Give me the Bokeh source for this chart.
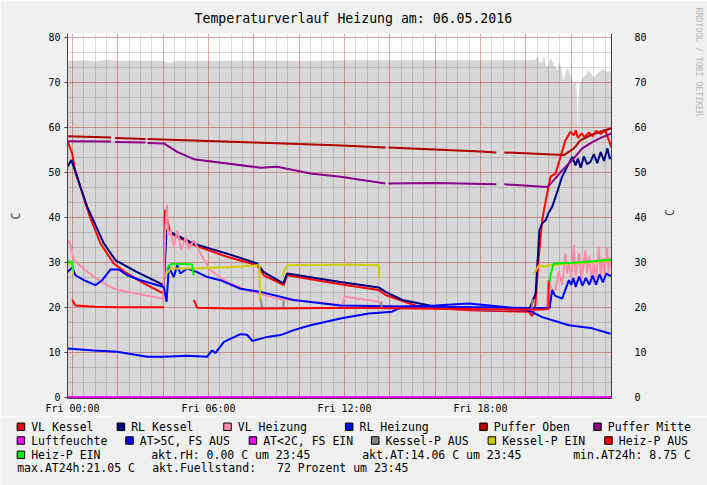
from math import pi
from bokeh.plotting import figure
from bokeh.layouts import column, row
from bokeh.models import Range1d, LinearAxis, FixedTicker, Grid, Title
from bokeh.core.properties import value
from bokeh.embed import file_html
from bokeh.resources import INLINE

NaN = float("nan")
FONT = "DejaVu Sans Mono"
BG = "#F0F0F0"

TITLE = "Temperaturverlauf Heizung am: 06.05.2016"
Y_LABEL = "C"
WATERMARK = "RRDTOOL / TOBI OETIKER"
X_TICKS = [0, 6, 12, 18]
X_TICK_LABELS = ["Fri 00:00", "Fri 06:00", "Fri 12:00", "Fri 18:00"]
Y_TICKS = [0, 10, 20, 30, 40, 50, 60, 70, 80]
X_MAJOR_GRID = [0, 2, 4, 6, 8, 10, 12, 14, 16, 18, 20, 22]
X_MINOR_GRID = [h * 0.5 for h in range(0, 48)]
Y_MINOR_GRID = [k * 10.0 / 3.0 for k in range(0, 25)]

# time in hours since Fri 00:00
FUELL_T = [-0.22, 0.5, 1.0, 1.5, 2.0, 3.0, 4.0, 4.3, 4.6, 6.0, 8.0, 10.0, 12.0, 14.0, 16.0, 18.0, 20.0,
           20.4, 20.5, 20.65, 20.8, 20.94, 21.09, 21.2, 21.38, 21.5, 21.67, 21.82, 21.97, 22.12, 22.22,
           22.27, 22.29, 22.31, 22.38, 22.56, 22.78, 23.0, 23.22, 23.44, 23.59, 23.78]
FUELL_V = [74.7, 74.9, 74.6, 75.0, 74.7, 74.8, 74.7, 74.3, 74.7, 74.7, 74.8, 74.7, 74.9, 74.9, 74.9, 74.9, 74.9,
           74.9, 75.6, 74.1, 75.6, 73.3, 75.2, 74.4, 72.6, 74.5, 70.4, 73.3, 71.8, 69.6, 70.5,
           65.0, 59.3, 66.0, 69.6, 71.1, 72.6, 71.1, 72.2, 73.0, 72.2, 72.6]

VL_KESSEL_T = [-0.22, -0.01, 0.13, 0.35, 0.57, 0.79, 1.24, 1.82, 2.41, 3.15, 4.03, 4.08, 4.32, 5.35, 6.82,
               8.15, 8.44, 9.32, 9.47, 11.82, 13.51, 13.81, 15.28, 17.48, 20.13, 20.28, 20.42, 20.55, 20.72,
               20.94, 21.09, 21.31, 21.53, 21.75, 21.97, 22.12, 22.2, 22.3, 22.45, 22.6, 22.78, 22.95, 23.1,
               23.3, 23.51, 23.66, 23.78]
VL_KESSEL_V = [56.9, 54.1, 49.8, 46.7, 43.1, 39.8, 34.1, 29.7, 27.5, 25.3, 23.0, 41.6, 36.4, 33.8, 31.2,
               29.3, 27.1, 24.9, 27.1, 25.1, 23.8, 22.7, 20.1, 19.3, 19.0, 18.0, 20.5, 30.0, 39.3,
               45.3, 49.0, 49.7, 53.4, 57.1, 59.0, 58.2, 59.3, 57.6, 58.6, 57.8, 58.8, 58.0, 59.2,
               58.5, 59.3, 57.1, 55.5]

RL_KESSEL_T = [-0.22, -0.05, 0.21, 0.35, 0.65, 1.38, 1.9, 2.85, 4.03, 4.15, 5.35, 6.82, 8.15, 8.44, 9.3,
               9.47, 11.82, 13.51, 13.81, 14.55, 16.01, 18.22, 20.13, 20.43, 20.6, 20.72, 20.87, 21.01,
               21.16, 21.31, 21.6, 21.82, 22.05, 22.19, 22.3, 22.42, 22.56, 22.7, 22.85, 23.0, 23.15,
               23.3, 23.45, 23.6, 23.7, 23.78]
RL_KESSEL_V = [51.2, 52.7, 49.0, 46.7, 42.3, 34.2, 30.4, 27.8, 24.9, 37.1, 34.1, 31.9, 29.7, 27.8, 25.3,
               27.5, 25.6, 24.4, 23.4, 21.6, 20.1, 19.3, 19.3, 23.0, 37.1, 38.6, 39.3, 41.0,
               42.3, 44.5, 49.0, 51.2, 53.4, 51.5, 53.0, 51.0, 53.5, 51.8, 52.3, 54.0, 52.0,
               54.5, 52.5, 55.3, 53.0, 53.4]

VL_HEIZUNG_T = [-0.22, -0.1, 0.06, 0.5, 0.94, 1.5, 1.82, 2.5, 3.15, 4.0,
                4.1, 4.17, 4.22, 4.32, 4.47, 4.62, 4.8, 4.99, 5.13, 5.35,
                5.65, 6.09, 6.82, 7.71, 9.03, 10.94, 11.9, 12.0, 13.51, 13.65,
                15.0, 17.0, 19.0, 20.9, 21.01, 21.16, 21.31, 21.45, 21.6, 21.75,
                21.82, 21.9, 22.0, 22.12, 22.2, 22.35, 22.45, 22.63, 22.7, 22.8,
                22.9, 23.0, 23.1, 23.22, 23.3, 23.4, 23.45, 23.59, 23.65, 23.72, 23.78]
VL_HEIZUNG_V = [35.0, 34.0, 30.5, 28.5, 26.8, 25.0, 24.1, 23.3, 22.7, 21.9,
                38.0, 42.7, 36.0, 37.1, 33.4, 37.1, 32.7, 35.6, 33.0, 34.9,
                31.9, 28.2, 25.6, 23.8, 21.9, 21.0, 20.5, 22.4, 21.2, 20.2,
                19.9, 19.6, 19.4, 19.5, 26.0, 23.5, 23.8, 28.0, 25.0, 31.9,
                27.5, 30.0, 26.5, 33.8, 27.0, 32.0, 26.0, 32.7, 27.5, 31.5,
                25.5, 30.0, 26.5, 33.4, 27.0, 31.0, 27.5, 33.4, 27.5, 31.0, 29.5]

RL_HEIZUNG_T = [-0.22, -0.01, 0.13, 0.5, 1.01, 1.31, 1.68, 2.04, 2.41, 3.0, 4.03, 4.15, 4.25, 4.47, 4.62,
                4.76, 5.06, 5.5, 5.94, 6.53, 7.41, 8.29, 9.76, 11.82, 15.28, 18.0, 20.13, 21.05, 21.16,
                21.3, 21.6, 21.9, 22.0, 22.1, 22.2, 22.35, 22.5, 22.65, 22.8, 22.95, 23.1, 23.25, 23.4,
                23.55, 23.66, 23.78]
RL_HEIZUNG_V = [27.8, 28.8, 27.1, 26.0, 24.9, 26.0, 28.4, 28.4, 27.1, 26.0, 24.5, 21.2, 28.9, 26.7, 29.3,
                27.5, 28.6, 27.8, 26.7, 26.0, 24.1, 23.4, 21.6, 20.4, 20.1, 20.0, 19.8, 19.8, 23.8,
                22.5, 21.9, 26.0, 25.0, 26.5, 24.5, 26.8, 24.8, 26.5, 25.0, 27.0, 25.0, 27.3, 25.5,
                27.5, 27.1, 27.0]

PUFFER_OBEN_T = [-0.22, 1.70, 1.76, 1.88, 3.22, 3.26, 3.31, 8.0, 11.6, 13.81, 13.87, 13.94, 18.0, 18.7,
                 18.85, 19.05, 21.68, 22.12, 22.41, 22.85, 23.29, 23.74, 23.78]
PUFFER_OBEN_V = [58.0, 57.7, NaN, 57.6, 57.4, NaN, 57.4, 56.6, 56.0, 55.5, NaN, 55.5, 54.6, 54.4,
                 NaN, 54.4, 53.8, 55.3, 57.1, 58.2, 59.0, 59.7, 59.6]

PUFFER_MITTE_T = [-0.22, 1.70, 1.76, 1.88, 3.22, 3.26, 3.31, 4.03, 4.62, 5.35, 8.29, 9.03, 10.5, 11.82,
                  13.81, 13.87, 13.94, 16.01, 18.7, 18.85, 19.05, 20.94, 21.16, 21.6, 22.05, 22.49,
                  22.93, 23.37, 23.78]
PUFFER_MITTE_V = [56.9, 56.8, NaN, 56.7, 56.6, NaN, 56.5, 56.4, 54.5, 52.9, 51.0, 51.2, 49.7, 49.0,
                  47.5, NaN, 47.5, 47.6, 47.3, NaN, 47.3, 46.7, 47.8, 50.4, 52.7, 55.3,
                  56.7, 57.8, 58.6]

LUFT_T = [-0.22, 1.70, 1.76, 1.82, 3.2, 3.25, 3.3, 13.82, 13.86, 13.9, 18.57, 18.61, 18.65,
          18.96, 19.03, 19.1, 23.07, 23.13, 23.2, 23.78]
LUFT_V = [0, 0, NaN, 0, 0, NaN, 0, 0, NaN, 0, 0, NaN, 0, 0, NaN, 0, 0, NaN, 0, 0]

AT_T = [-0.22, 0.94, 1.97, 3.3, 4.03, 5.06, 5.94, 6.16, 6.3, 6.68, 7.41, 7.7, 7.93, 8.59, 9.18, 9.76,
        10.5, 11.82, 13.07, 14.1, 14.55, 16.01, 17.48, 18.96, 20.13, 20.72, 21.9, 22.93, 23.74]
AT_V = [10.8, 10.4, 10.1, 9.0, 9.0, 9.2, 9.0, 10.4, 9.8, 12.3, 14.0, 13.9, 12.5, 13.4, 13.8, 14.9,
        16.0, 17.5, 18.6, 19.0, 20.1, 20.4, 20.8, 20.1, 19.3, 17.8, 16.0, 15.3, 14.1]

AT_KALT_T = [-0.22, 23.78]
AT_KALT_V = [0, 0]

KESSEL_P_AUS_T = [8.25, 8.37, 9.3, 9.32, 11.0, 13.6, 13.66, 13.7, 17.0, 20.26, 20.3]
KESSEL_P_AUS_V = [23.0, 19.8, 19.8, 21.5, NaN, 21.2, 19.8, 19.7, NaN, 19.7, 21.8]

KESSEL_P_EIN_T = [-0.22, -0.01, 0.03, 0.1, 4.1, 4.32, 5.35, 6.82, 8.15, 8.25, 8.27, 8.8, 9.27, 9.32,
                  9.47, 10.94, 12.04, 13.51, 13.54, 17.0, 20.35, 20.43, 20.57, 20.87, 21.0, 21.9, 22.8, 23.78]
KESSEL_P_EIN_V = [29.6, 29.6, 27.5, NaN, 27.1, 28.6, 28.6, 28.9, 29.3, 29.3, 21.6, NaN, 26.8, 27.8,
                  29.3, 29.4, 29.5, 29.3, 26.4, NaN, 27.5, 28.0, 29.3, 29.0, 29.3, 29.7, 30.0, 30.4]

HEIZ_P_AUS_T = [-0.01, 0.13, 1.0, 2.0, 3.0, 4.03, 4.7, 5.35, 5.5, 7.0, 9.0, 11.0, 13.0, 15.0, 17.0,
                19.0, 20.5, 21.0, 21.01]
HEIZ_P_AUS_V = [21.6, 20.4, 20.1, 20.0, 20.0, 20.0, NaN, 21.6, 19.9, 19.7, 19.7, 19.8, 19.8, 19.7, 19.6,
                19.5, 19.5, 19.6, 26.0]

HEIZ_P_EIN_T = [-0.22, -0.01, 0.03, 0.1, 4.15, 4.25, 4.4, 5.0, 5.28, 5.35, 10.0, 21.05, 21.1, 21.23,
                22.0, 23.0, 23.78]
HEIZ_P_EIN_V = [30.1, 30.1, 28.0, NaN, 28.2, 29.3, 29.6, 29.6, 29.5, 27.1, NaN, 25.6, 27.5, 29.7,
                29.9, 30.2, 30.6]

SERIES = [
    ("VL Kessel", "#FF0000", VL_KESSEL_T, VL_KESSEL_V),
    ("RL Kessel", "#000080", RL_KESSEL_T, RL_KESSEL_V),
    ("VL Heizung", "#FF8CAA", VL_HEIZUNG_T, VL_HEIZUNG_V),
    ("RL Heizung", "#0000FF", RL_HEIZUNG_T, RL_HEIZUNG_V),
    ("Puffer Oben", "#B00000", PUFFER_OBEN_T, PUFFER_OBEN_V),
    ("Puffer Mitte", "#8B008B", PUFFER_MITTE_T, PUFFER_MITTE_V),
    ("Luftfeuchte", "#FF00FF", LUFT_T, LUFT_V),
    ("AT>5C, FS AUS", "#0000FF", AT_T, AT_V),
    ("AT<2C, FS EIN", "#EE00EE", AT_KALT_T, AT_KALT_V),
    ("Kessel-P AUS", "#888888", KESSEL_P_AUS_T, KESSEL_P_AUS_V),
    ("Kessel-P EIN", "#CCCC00", KESSEL_P_EIN_T, KESSEL_P_EIN_V),
    ("Heiz-P AUS", "#FF0000", HEIZ_P_AUS_T, HEIZ_P_AUS_V),
    ("Heiz-P EIN", "#00EE00", HEIZ_P_EIN_T, HEIZ_P_EIN_V),
]

INFO_TEXTS = ["akt.rH: 0.00 C um 23:45", "akt.AT:14.06 C um 23:45", "min.AT24h: 8.75 C",
              "max.AT24h:21.05 C", "akt.Fuellstand:", "72 Prozent um 23:45"]

# ---------------- layout (pixels) ----------------
W, H = 707, 485
FL, FT, FW, FH = 67, 33, 544, 365
MAIN_H = 415
PXH = FW / 24.0
PY = 4.5
X0 = -0.2206
Y0 = -0.29

p = figure(width=W, height=MAIN_H, frame_width=FW, frame_height=FH,
           x_range=Range1d(X0, X0 + 24.0), y_range=Range1d(Y0, Y0 + FH / PY),
           min_border_left=FL, min_border_right=W - FL - FW, min_border_top=FT,
           min_border_bottom=MAIN_H - FT - FH,
           output_backend="svg", toolbar_location=None)
p.background_fill_color = "white"
p.border_fill_color = BG
p.outline_line_color = None
p.xgrid.visible = False
p.ygrid.visible = False

p.title.text = TITLE
p.title.text_font = FONT
p.title.text_font_size = "13.2px"
p.title.text_font_style = "normal"
p.title.text_color = "black"
p.title.align = "left"
p.title.offset = 127
p.title.standoff = 15

for dim, ticks, color, alpha in [(0, X_MINOR_GRID, "#C0C0C0", 0.55), (1, Y_MINOR_GRID, "#C0C0C0", 0.55),
                                 (0, X_MAJOR_GRID, "#F07070", 0.5), (1, Y_TICKS, "#F07070", 0.5)]:
    p.add_layout(Grid(dimension=dim, ticker=FixedTicker(ticks=ticks),
                      grid_line_color=color, grid_line_alpha=alpha, grid_line_width=1))

AXC = "#404040"

ax = p.xaxis[0]
ax.ticker = FixedTicker(ticks=X_TICKS, minor_ticks=[])
ax.major_label_overrides = {float(k): v for k, v in zip(X_TICKS, X_TICK_LABELS)}
ax.major_label_text_font = FONT
ax.major_label_text_font_size = "10px"
ax.major_label_text_color = "black"
ax.axis_line_color = AXC
ax.major_tick_out = 0
ax.major_tick_in = 0
ax.major_label_standoff = 4

ay = p.yaxis[0]
ay.ticker = FixedTicker(ticks=Y_TICKS, minor_ticks=[])
ay.major_label_text_font = FONT
ay.major_label_text_font_size = "10px"
ay.major_label_text_color = "black"
ay.axis_line_color = AXC
ay.major_tick_line_color = AXC
ay.major_tick_out = 3
ay.major_tick_in = 0
ay.major_label_standoff = 4
ay.axis_label = Y_LABEL
ay.axis_label_text_font = FONT
ay.axis_label_text_font_size = "11.5px"
ay.axis_label_text_font_style = "normal"
ay.axis_label_standoff = 22

ar = LinearAxis(ticker=FixedTicker(ticks=Y_TICKS, minor_ticks=[]),
                major_label_text_font=FONT, major_label_text_font_size="10px",
                major_label_text_color="black", axis_line_color=AXC,
                major_tick_out=0, major_tick_in=0, major_label_standoff=23,
                axis_label=Y_LABEL, axis_label_text_font=FONT, axis_label_text_font_size="11.5px",
                axis_label_text_font_style="normal", axis_label_standoff=20)
if "axis_label_orientation" in LinearAxis.properties():
    ar.axis_label_orientation = pi / 2
p.add_layout(ar, "right")

wm = Title(text=WATERMARK, align="left", offset=-26, standoff=14, text_font=FONT,
           text_font_size="8.2px", text_font_style="normal", text_color="#B8B8B8")
p.add_layout(wm, "right")

# fill level as translucent area
p.varea(x=FUELL_T, y1=[0] * len(FUELL_T), y2=FUELL_V, fill_color="black", fill_alpha=0.155)

for name, color, t, v in SERIES:
    p.line(t, v, line_color=color, line_width=2)

# ---------- legend strip ----------
leg = figure(width=W, height=H - MAIN_H, x_range=Range1d(0, W), y_range=Range1d(H, MAIN_H),
             min_border=0, x_axis_location=None, y_axis_location=None,
             output_backend="svg", toolbar_location=None)
leg.background_fill_color = BG
leg.border_fill_color = BG
leg.outline_line_color = None
leg.grid.visible = False

ROWS_Y = [425.3, 439.0, 453.3, 466.7]
TEXT_X = [[30.7, 130.7, 237.3, 359.0, 493.3, 607.3],
          [30.7, 139.3, 262.7, 385.0, 501.7, 618.3],
          [30.7]]
bx, by, bc, tx, ty, tt = [], [], [], [], [], []
k = 0
for r, xs in enumerate(TEXT_X):
    for xpos in xs:
        name, color = SERIES[k][0], SERIES[k][1]
        k += 1
        bx.append(xpos - 10.3)
        by.append(ROWS_Y[r])
        bc.append(color)
        tx.append(xpos)
        ty.append(ROWS_Y[r])
        tt.append(name)
INFO_POS = [(150.7, ROWS_Y[2]), (361.7, ROWS_Y[2]), (572.7, ROWS_Y[2]),
            (16.7, ROWS_Y[3]), (151.7, ROWS_Y[3]), (276.5, ROWS_Y[3])]
for (xpos, ypos), txt in zip(INFO_POS, INFO_TEXTS):
    tx.append(xpos)
    ty.append(ypos)
    tt.append(txt)

leg.rect(x=bx, y=by, width=7.5, height=7.5, fill_color=bc, line_color="black", line_width=1)
leg.text(x=tx, y=ty, text=tt, text_font=value(FONT), text_font_size=value("11.5px"),
         text_align="left", text_baseline="middle", text_color="black")

layout = column(row(p, spacing=0), leg, spacing=0)
open("out.html", "w").write(file_html(layout, INLINE))
